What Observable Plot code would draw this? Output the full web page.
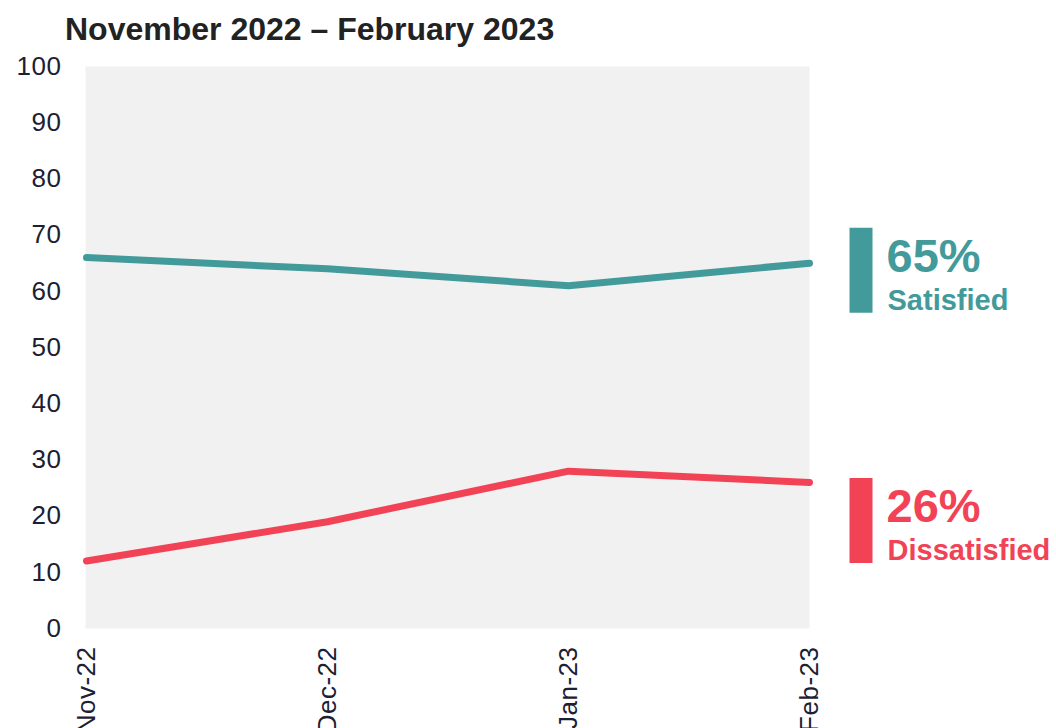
<!DOCTYPE html>
<html>
<head>
<meta charset="utf-8">
<script src="https://cdn.jsdelivr.net/npm/d3@7"></script>
<script src="https://cdn.jsdelivr.net/npm/@observablehq/plot@0.6"></script>
<style>
  html, body { margin: 0; padding: 0; background: #fff; }
  body { width: 1056px; height: 728px; overflow: hidden; font-family: "Liberation Sans", Arial, sans-serif; }
  #title { height: 50px; box-sizing: border-box; padding: 13px 0 0 65px; font-size: 32px; line-height: 32px; font-weight: bold; color: #222; }
  #chart svg { display: block; }
  #chart svg g[aria-label="y-axis tick label"] text,
  #chart svg g[aria-label="x-axis tick label"] text { letter-spacing: 0.5px; }
</style>
</head>
<body>
<div id="title">November 2022 – February 2023</div>
<div id="chart"></div>
<script>
const months = ["Nov-22", "Dec-22", "Jan-23", "Feb-23"];
const satisfied = [66, 64, 61, 65];
const dissatisfied = [12, 19, 28, 26];
const seriesNames = ["Satisfied", "Dissatisfied"];
const seriesColors = ["#439a9a", "#f24356"];
const yTicks = [0, 10, 20, 30, 40, 50, 60, 70, 80, 90, 100];

const seriesValues = [satisfied, dissatisfied];
const rows = [];
seriesNames.forEach((s, si) => {
  months.forEach((m, i) => rows.push({series: s, month: m, value: seriesValues[si][i]}));
});
const last = seriesNames.map((s, si) => ({
  series: s,
  month: months[months.length - 1],
  value: seriesValues[si][months.length - 1],
  color: seriesColors[si],
  pct: seriesValues[si][months.length - 1] + "%"
}));
// vertical pixel shift of each label block relative to its line end
const blockShift = {Satisfied: 0, Dissatisfied: 31};

const textColor = "#1c2033";
const plot = Plot.plot({
  width: 1056,
  height: 678,
  marginLeft: 85,
  marginRight: 247,
  marginTop: 16,
  marginBottom: 100,
  style: {fontFamily: "'Liberation Sans', Arial, sans-serif", color: textColor, background: "transparent", overflow: "visible"},
  x: {type: "point", domain: months, padding: 0},
  y: {domain: [0, 100]},
  marks: [
    Plot.frame({fill: "#f1f1f1", stroke: null}),
    Plot.axisY({ticks: yTicks, tickSize: 0, tickPadding: 24, fontSize: 26, label: null, fill: textColor}),
    Plot.axisX({tickRotate: -90, tickSize: 0, tickPadding: 18, fontSize: 26, label: null, fill: textColor}),
    Plot.line(rows, {x: "month", y: "value", z: "series", stroke: d => seriesColors[seriesNames.indexOf(d.series)], strokeWidth: 7, strokeLinecap: "round", strokeLinejoin: "round"}),
    ...last.map(d => Plot.ruleX([d], {x: "month", y1: "value", y2: "value", stroke: d.color, strokeWidth: 23, insetTop: -42.5, insetBottom: -42.5, dx: 51.5, dy: 7.5 + blockShift[d.series]})),
    ...last.map(d => Plot.text([d], {x: "month", y: "value", text: "pct", fill: d.color, fontSize: 47, fontWeight: "bold", textAnchor: "start", lineAnchor: "bottom", dx: 77, dy: 9 + blockShift[d.series]})),
    ...last.map(d => Plot.text([d], {x: "month", y: "value", text: "series", fill: d.color, fontSize: 29, fontWeight: "bold", textAnchor: "start", lineAnchor: "bottom", dx: 78, dy: 46.5 + blockShift[d.series]}))
  ]
});
document.getElementById("chart").appendChild(plot);
</script>
</body>
</html>
